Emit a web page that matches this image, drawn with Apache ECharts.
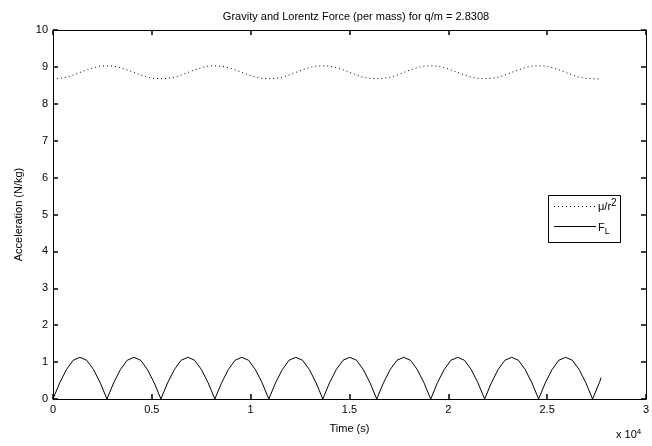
<!DOCTYPE html>
<html><head><meta charset="utf-8">
<script src="https://cdn.jsdelivr.net/npm/echarts@6/dist/echarts.min.js"></script>
<style>html,body{margin:0;padding:0;background:#fff}#c{width:652px;height:446px}</style>
</head><body><div id="c"></div>
<script>
var times = [0,341,683,1024,1365,1706,2048,2389,2730,3071,3413,3754,4095,4436,4778,5119,
5460,5801,6143,6484,6825,7166,7508,7849,8190,8531,8873,9214,9555,9896,10238,10579,
10920,11261,11603,11944,12285,12626,12968,13309,13650,13991,14333,14674,15015,15356,15698,16039,
16380,16721,17063,17404,17745,18086,18428,18769,19110,19451,19793,20134,20475,20816,21158,21499,
21840,22181,22523,22864,23205,23546,23888,24229,24570,24911,25253,25594,25935,26276,26618,26959,
27300,27641,27735];
var gravity = [8.66,8.69,8.72,8.78,8.85,8.92,8.98,9.02,9.03,9.02,8.98,8.92,8.85,8.78,8.72,8.69,
8.68,8.69,8.72,8.78,8.85,8.92,8.98,9.02,9.03,9.02,8.98,8.92,8.85,8.78,8.72,8.69,
8.68,8.69,8.72,8.78,8.85,8.92,8.98,9.02,9.03,9.02,8.98,8.92,8.85,8.78,8.72,8.69,
8.68,8.69,8.72,8.78,8.85,8.92,8.98,9.02,9.03,9.02,8.98,8.92,8.85,8.78,8.72,8.69,
8.68,8.69,8.72,8.78,8.85,8.92,8.98,9.02,9.03,9.02,8.98,8.92,8.85,8.78,8.72,8.69,
8.68,8.67,8.66];
var lorentz = [0,0.44,0.80,1.05,1.13,1.05,0.80,0.44,0,0.44,0.80,1.05,1.13,1.05,0.80,0.44,
0,0.44,0.80,1.05,1.13,1.05,0.80,0.44,0,0.44,0.80,1.05,1.13,1.05,0.80,0.44,
0,0.44,0.80,1.05,1.13,1.05,0.80,0.44,0,0.44,0.80,1.05,1.13,1.05,0.80,0.44,
0,0.44,0.80,1.05,1.13,1.05,0.80,0.44,0,0.44,0.80,1.05,1.13,1.05,0.80,0.44,
0,0.44,0.80,1.05,1.13,1.05,0.80,0.44,0,0.44,0.80,1.05,1.13,1.05,0.80,0.44,
0,0.44,0.58];
var xTicks = [0,5000,10000,15000,20000,25000,30000];
var yTicks = [0,1,2,3,4,5,6,7,8,9,10];

var FONT = 'Liberation Sans';
function pairs(xs, ys){ return xs.map(function(x,i){ return [x, ys[i]]; }); }
var chart = echarts.init(document.getElementById('c'));
function tick(){ return {show:true,inside:true,length:5,lineStyle:{color:'#000',width:1.5}}; }
function line(){ return {show:true,onZero:false,lineStyle:{color:'#000',width:1}}; }
chart.setOption({
  animation:false,
  backgroundColor:'#fff',
  title:{text:'Gravity and Lorentz Force (per mass) for q/m = 2.8308',left:351,top:6,textAlign:'center',
    textStyle:{fontFamily:FONT,fontSize:11,fontWeight:'normal',color:'#000'}},
  grid:{left:53,right:3,top:30,bottom:47},
  xAxis:[
    {type:'value',min:xTicks[0],max:xTicks[xTicks.length-1],interval:5000,position:'bottom',
      axisLine:line(),axisTick:tick(),splitLine:{show:false},
      name:'Time (s)',nameLocation:'middle',nameGap:24,
      nameTextStyle:{fontFamily:FONT,fontSize:11,color:'#000'},
      axisLabel:{fontFamily:FONT,fontSize:11,color:'#000',margin:5,formatter:function(v){return String(v/10000);}}},
    {type:'value',min:0,max:30000,interval:5000,position:'top',axisLine:line(),axisTick:tick(),splitLine:{show:false},axisLabel:{show:false}}
  ],
  yAxis:[
    {type:'value',min:yTicks[0],max:yTicks[yTicks.length-1],interval:1,position:'left',
      axisLine:line(),axisTick:tick(),splitLine:{show:false},
      name:'Acceleration (N/kg)',nameLocation:'middle',nameGap:24,
      nameTextStyle:{fontFamily:FONT,fontSize:11,color:'#000'},
      axisLabel:{fontFamily:FONT,fontSize:11,color:'#000',margin:5}},
    {type:'value',min:0,max:10,interval:1,position:'right',axisLine:line(),axisTick:tick(),splitLine:{show:false},axisLabel:{show:false}}
  ],
  series:[
    {type:'line',name:'mu/r2',xAxisIndex:0,yAxisIndex:0,data:pairs(times,gravity),showSymbol:false,
      lineStyle:{color:'#000',width:1,type:[1,3]}},
    {type:'line',name:'FL',xAxisIndex:0,yAxisIndex:0,data:pairs(times,lorentz),showSymbol:false,
      lineStyle:{color:'#000',width:1}}
  ],
  graphic:[
    {type:'text',left:616,top:428,style:{text:'x 10{s|4}',rich:{s:{fontFamily:FONT,fontSize:8,verticalAlign:'top',padding:[0,0,6,0]}},
      font:'11px '+FONT,fill:'#000'}},
    {type:'rect',shape:{x:548.5,y:195.5,width:72,height:47},style:{fill:'#fff',stroke:'#000',lineWidth:1}},
    {type:'line',shape:{x1:554,y1:206.5,x2:596,y2:206.5},style:{stroke:'#000',lineWidth:1,lineDash:[1,3]}},
    {type:'line',shape:{x1:554,y1:226.5,x2:596,y2:226.5},style:{stroke:'#000',lineWidth:1}},
    {type:'text',x:598,y:198,style:{text:'\u03bc/r{s|2}',rich:{s:{fontFamily:FONT,fontSize:10,padding:[0,0,8,0]}},font:'11px '+FONT,fill:'#000'}},
    {type:'text',x:598,y:219,style:{text:'F{b|L}',rich:{b:{fontFamily:FONT,fontSize:9,padding:[8,0,0,0]}},font:'11px '+FONT,fill:'#000'}}
  ]
});
</script></body></html>
